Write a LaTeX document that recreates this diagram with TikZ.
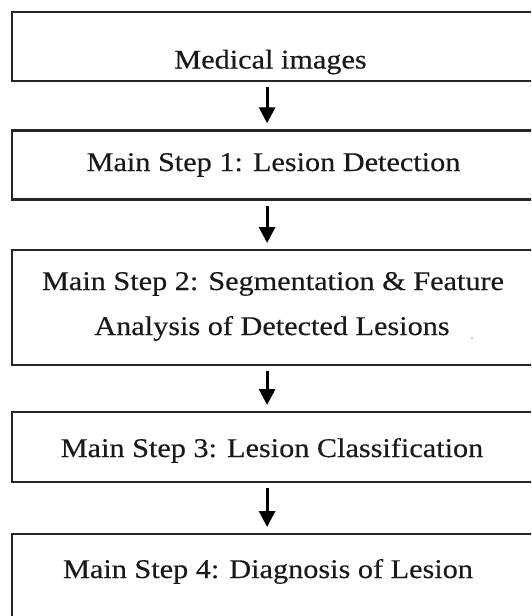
\documentclass[tikz,border=0pt]{standalone}
\usepackage{fontspec}
\setmainfont{Liberation Serif}[FakeStretch=1.12,FakeBold=0.3]
\usetikzlibrary{arrows.meta}
\begin{document}
\begin{tikzpicture}[x=1pt,y=-1pt,
  box/.style={draw=black!85,line width=2.2pt,minimum width=525pt,inner sep=0pt,anchor=north west},
  lbl/.style={anchor=base,inner sep=0pt,font=\fontsize{27}{32}\selectfont,text=black!90},
  flow/.style={line width=3pt,-{Triangle[width=16pt,length=16pt]},shorten <=5pt,shorten >=6pt}]
\clip (0,0) rectangle (531,616);
\fill[white] (0,0) rectangle (531,616);
\node[box,minimum height=69.5pt] (b1) at (11,10.5) {};
\node[box,minimum height=69pt] (b2) at (11,129.3) {};
\node[box,minimum height=115pt] (b3) at (11,249) {};
\node[box,minimum height=70pt] (b4) at (11,411) {};
\node[box,minimum height=110pt] (b5) at (11,533) {};
\node[lbl] (t1) at (270.5,68.5) {Medical images};
\node[lbl] (t2) at (273.5,171) {Main Step 1: Lesion Detection};
\node[lbl] (t3a) at (273,290) {Main Step 2: Segmentation \& Feature};
\node[lbl] (t3b) at (272,335) {Analysis of Detected Lesions};
\node[lbl] (t4) at (272,457) {Main Step 3: Lesion Classification};
\node[lbl] (t5) at (268,578) {Main Step 4: Diagnosis of Lesion};
\fill[black!40] (472,338) circle (0.8pt);
\foreach \a/\b in {b1/b2,b2/b3,b3/b4,b4/b5}
  \draw[flow] ([xshift=-7.5pt]\a.south) -- ([xshift=-7.5pt]\b.north);
\end{tikzpicture}
\end{document}
